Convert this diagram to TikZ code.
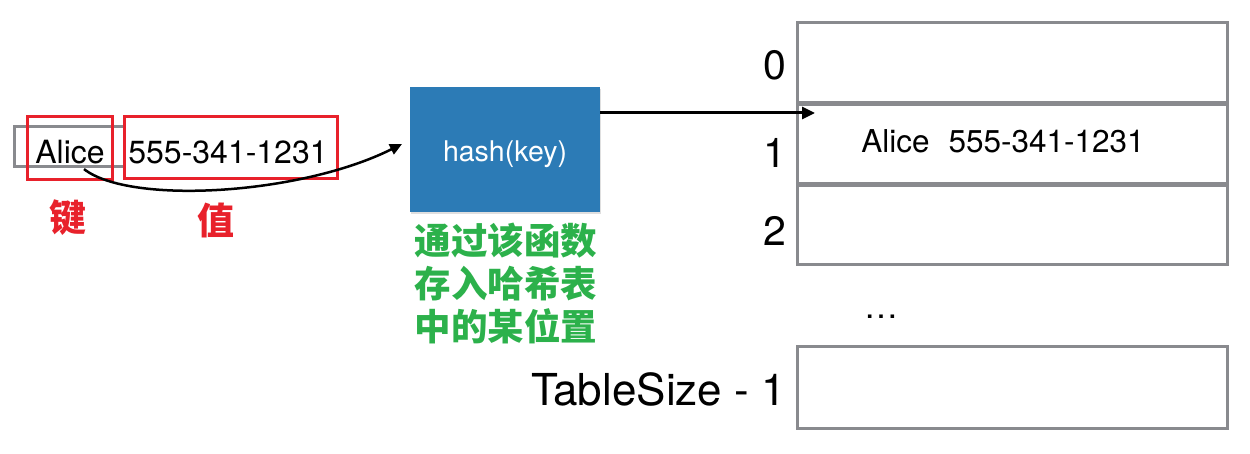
\documentclass[tikz,border=0pt]{standalone}
\usepackage{fontspec}
\setmainfont{TeX Gyre Heros}
\newfontfamily\cjk{Noto Sans CJK SC}
\usetikzlibrary{arrows.meta,shadows}
\definecolor{kred}{RGB}{232,33,43}
\definecolor{kgreen}{RGB}{44,177,75}
\definecolor{kblue}{RGB}{44,123,182}
\definecolor{kgray}{RGB}{137,138,142}
\newcommand{\fs}[1]{\fontsize{#1}{#1}\selectfont}
\begin{document}
\begin{tikzpicture}[x=1pt,y=-1pt,
  graybox/.style={draw=kgray,line width=3pt,minimum width=110pt,minimum height=40pt,inner sep=0pt},
  redbox/.style={draw=kred,line width=3pt,inner sep=0pt},
  slotbox/.style={draw=kgray,line width=3pt,minimum width=430pt,inner sep=0pt},
  lbl/.style={inner sep=0pt,font=\fs{32}},
  idx/.style={inner sep=0pt,anchor=east,font=\fs{41}},
  redlbl/.style={inner sep=0pt,text=kred,font=\cjk\bfseries\fs{37}},
  arr/.style={-{Triangle[length=13pt,width=12pt]},line width=3pt},
  carr/.style={-{Triangle[length=12pt,width=11pt]},line width=2.5pt}]
\useasboundingbox (0,0) rectangle (1250,454);
% key-value pair
\node[graybox] (kv) at (69,147) {};
\node[lbl] (alice) at (70,152) {Alice};
\node[lbl] (num) at (228,152) {555-341-1231};
\node[redbox,minimum width=85pt,minimum height=63pt] (key) at (69.5,148.5) {};
\node[redbox,minimum width=213pt,minimum height=62pt] (val) at (230.5,148) {};
\node[redlbl] (keylbl) at (68,218) {键};
\node[redlbl] (vallbl) at (216,220) {值};
% hash function
\node[fill=kblue,minimum width=190pt,minimum height=125pt,inner sep=0pt,
  drop shadow={opacity=0.25,shadow xshift=1pt,shadow yshift=-2pt}] (hash) at (505,150) {};
\node[text=white,inner sep=0pt,font=\fs{28.5}] (hashtxt) at (505,154) {hash(key)};
\node[text=kgreen,inner sep=0pt,align=center,font=\cjk\bfseries\fontsize{36.5}{43}\selectfont] (note) at (506,283) {通过该函数\\存入哈希表\\中的某位置};
% table
\node[slotbox,minimum height=80pt] (r0) at (1012,62.5) {};
\node[slotbox,minimum height=79pt] (r1) at (1012,144) {};
\node[slotbox,minimum height=79pt] (r2) at (1012,225) {};
\node[slotbox,minimum height=82pt] (rl) at (1012,387) {};
\node[idx] (i0) at (786,65) {0};
\node[idx] (i1) at (786,153) {1};
\node[idx] (i2) at (786,231) {2};
\node[idx,font=\fs{44}] (il) at (786,389) {TableSize - 1};
\node[inner sep=0pt,font=\fs{31.5}] (r1txt) at (1003,141) {Alice\hspace{0.6em}555-341-1231};
\node[inner sep=0pt,font=\fs{34}] (dots) at (881,317) {…};
% connectors
\coordinate (slot) at (815,113);
\coordinate (tip) at (402,144);
\draw[arr] (hash.east |- slot) -- (slot);
\draw[carr] ([xshift=14pt,yshift=-5pt]alice.south) .. controls (130,205) and (300,195) .. (tip);
\end{tikzpicture}
\end{document}
